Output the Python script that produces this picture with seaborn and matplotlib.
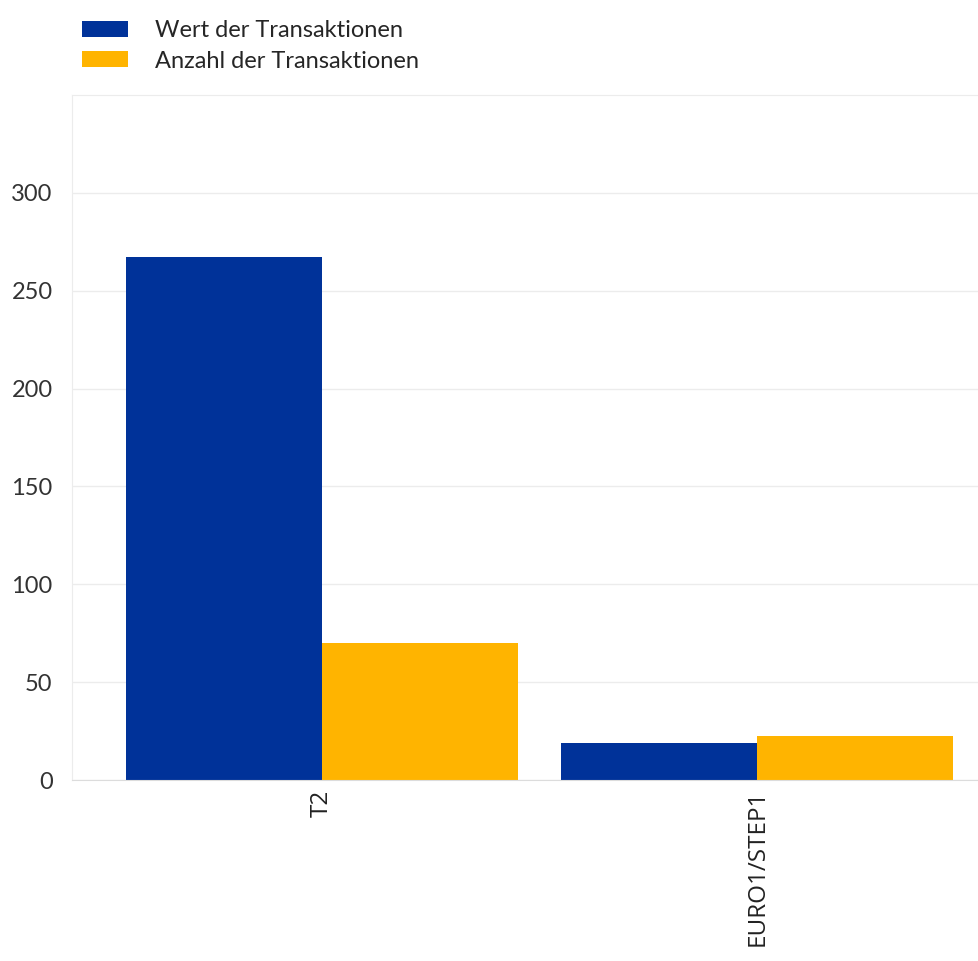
import pandas as pd
import matplotlib.pyplot as plt
import seaborn as sns
from matplotlib.patches import Patch

# Daten
systems = ['T2', 'EURO1/STEP1']
wert = [267, 19]
anzahl = [70, 22.5]
series_names = ['Wert der Transaktionen', 'Anzahl der Transaktionen']
colors = ['#003299', '#FFB400']
yticks = [0, 50, 100, 150, 200, 250, 300]

df = pd.DataFrame({
    'system': systems * 2,
    'value': wert + anzahl,
    'series': [series_names[0]] * 2 + [series_names[1]] * 2,
})

sns.set_style('white')
plt.rcParams['font.family'] = ['Lato', 'DejaVu Sans']

fig = plt.figure(figsize=(9.79, 9.61), dpi=100)
ax = fig.add_axes([0.0735, 0.1883, 0.9265, 0.7128])

sns.barplot(data=df, x='system', y='value', hue='series', palette=colors,
            width=0.9, saturation=1, linewidth=0, ax=ax, legend=False)

ax.set_ylim(0, 350)
ax.set_xlim(-0.575, 1.51)
ax.set_yticks(yticks)
ax.set_yticklabels([str(t) for t in yticks], fontsize=17, color='#333333')
ax.set_xticks(range(len(systems)))
ax.set_xticklabels(systems, rotation=90, fontsize=17.5, color='#222222',
                   family=['Open Sans', 'DejaVu Sans'])
ax.tick_params(axis='y', length=0, pad=14)
ax.tick_params(axis='x', length=0, pad=7)
ax.set_xlabel('')
ax.set_ylabel('')

ax.yaxis.grid(True, color='#ececec', linewidth=1)
ax.set_axisbelow(True)
for side in ['left', 'top']:
    ax.spines[side].set_color('#ececec')
ax.spines['right'].set_visible(False)
ax.spines['bottom'].set_color('#dcdcdc')

# Legende oben links
handles = [Patch(facecolor=c, edgecolor='none') for c in colors]
fig.legend(handles, series_names, loc='upper left', bbox_to_anchor=(0.0838, 0.979),
           frameon=False, fontsize=17, handlelength=1.95, handleheight=0.65,
           handletextpad=1.15, labelspacing=0.4, borderpad=0, borderaxespad=0)

fig.savefig('out.png', dpi=100, facecolor='white')
